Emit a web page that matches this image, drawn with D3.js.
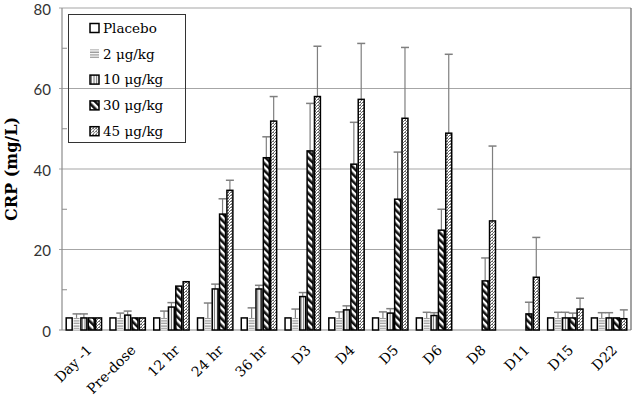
<!DOCTYPE html>
<html>
<head>
<meta charset="utf-8">
<script src="https://cdn.jsdelivr.net/npm/d3@7"></script>
<style>
  body { margin: 0; background: #fff; }
  svg { display: block; }
</style>
</head>
<body>
<div id="chart"></div>
<script>
const categories = ["Day -1", "Pre-dose", "12 hr", "24 hr", "36 hr", "D3", "D4", "D5", "D6", "D8", "D11", "D15", "D22"];
const seriesNames = ["Placebo", "2 μg/kg", "10 μg/kg", "30 μg/kg", "45 μg/kg"];

// mean CRP (mg/L), null = not measured
const placebo = [3, 3, 3, 3, 3, 3, 3, 3, 3, null, null, 3, 3];
const dose2   = [3, 3, 3, 3, 3, 3, 3, 3, 3, null, null, 3, 3];
const dose10  = [3, 3.7, 5.7, 10.2, 10.2, 8.3, 5, 4.2, 3.6, null, null, 3, 3];
const dose30  = [3, 3, 10.9, 28.8, 42.8, 44.5, 41.2, 32.5, 24.8, 12.2, 4, 3, 3];
const dose45  = [3, 3, 12, 34.7, 51.9, 58, 57.3, 52.6, 48.9, 27.1, 13.1, 5.2, 2.8];

// upper error (SD)
const errPlacebo = [0, 0, 0, 0, 0, 0, 0, 0, 0, 0, 0, 0, 0];
const err2  = [1, 1.2, 1.7, 3.7, 2.5, 2.2, 1.5, 1.5, 1.4, 0, 0, 1.4, 1.3];
const err10 = [1, 1, 1.1, 1.2, 0.9, 1, 1, 1.1, 0.7, 0, 0, 1.4, 1.3];
const err30 = [0, 0, 0, 3.8, 5.2, 11.8, 10.4, 11.7, 5.2, 5.7, 2.9, 1.2, 0];
const err45 = [0, 0, 0, 2.5, 6.1, 12.5, 13.9, 17.6, 19.6, 18.6, 9.9, 2.7, 2.2];

const yTicks = [0, 20, 40, 60, 80];
const yMinorTicks = [10, 30, 50, 70];

const means = [placebo, dose2, dose10, dose30, dose45];
const errs = [errPlacebo, err2, err10, err30, err45];
const fills = ['#fff', 'url(#hlines)', 'url(#vlines)', 'url(#diag)', 'url(#zig)'];
const strokes = ['#000', 'none', '#000', '#000', '#000'];

const width = 633, height = 400;
const margin = { top: 8, right: 2, bottom: 70, left: 62 };

const svg = d3.select('#chart').append('svg')
    .attr('width', width)
    .attr('height', height);

const defs = svg.append('defs');

const hl = defs.append('pattern').attr('id', 'hlines')
    .attr('patternUnits', 'userSpaceOnUse').attr('width', 4).attr('height', 2.6);
hl.append('rect').attr('width', 4).attr('height', 2.6).attr('fill', '#fff');
hl.append('line').attr('x1', 0).attr('x2', 4).attr('y1', 1).attr('y2', 1)
    .attr('stroke', '#777').attr('stroke-width', 1);

const vl = defs.append('pattern').attr('id', 'vlines')
    .attr('patternUnits', 'userSpaceOnUse').attr('width', 2.7).attr('height', 4);
vl.append('rect').attr('width', 2.7).attr('height', 4).attr('fill', '#fff');
vl.append('line').attr('x1', 1.3).attr('x2', 1.3).attr('y1', 0).attr('y2', 4)
    .attr('stroke', '#666').attr('stroke-width', 1);

const dg = defs.append('pattern').attr('id', 'diag')
    .attr('patternUnits', 'userSpaceOnUse').attr('width', 5).attr('height', 5)
    .attr('patternTransform', 'rotate(-45)');
dg.append('rect').attr('width', 5).attr('height', 5).attr('fill', '#fff');
dg.append('rect').attr('width', 2.6).attr('height', 5).attr('fill', '#111');

const zg = defs.append('pattern').attr('id', 'zig')
    .attr('patternUnits', 'userSpaceOnUse').attr('width', 3).attr('height', 3);
zg.append('rect').attr('width', 3).attr('height', 3).attr('fill', '#fff');
zg.append('path').attr('d', 'M0,0 L1.5,1.5 L3,0 M0,3 L3,0')
    .attr('stroke', '#666').attr('stroke-width', 0.9).attr('fill', 'none');

const x = d3.scaleBand()
    .domain(categories)
    .range([margin.left, width - margin.right])
    .paddingInner(0.16)
    .paddingOuter(0.08);

const xs = d3.scaleBand()
    .domain(d3.range(seriesNames.length))
    .range([0, x.bandwidth()]);

const y = d3.scaleLinear()
    .domain([0, 80])
    .range([height - margin.bottom, margin.top]);

// gridlines
svg.append('g').selectAll('line')
    .data(yTicks.filter(d => d > 0))
    .join('line')
    .attr('x1', margin.left - 3)
    .attr('x2', width - margin.right)
    .attr('y1', d => y(d)).attr('y2', d => y(d))
    .attr('stroke', '#a6a6a6').attr('stroke-width', 1.2);

// minor ticks
svg.append('g').selectAll('line')
    .data(yMinorTicks)
    .join('line')
    .attr('x1', margin.left).attr('x2', margin.left + 5)
    .attr('y1', d => y(d)).attr('y2', d => y(d))
    .attr('stroke', '#8c8c8c');

// y axis line, baseline, right edge
svg.append('line')
    .attr('x1', margin.left).attr('x2', margin.left)
    .attr('y1', y(80)).attr('y2', y(0))
    .attr('stroke', '#8c8c8c').attr('stroke-width', 1.2);
svg.append('line')
    .attr('x1', margin.left - 3).attr('x2', width - margin.right)
    .attr('y1', y(0)).attr('y2', y(0))
    .attr('stroke', '#8c8c8c').attr('stroke-width', 1.2);
svg.append('line')
    .attr('x1', width - margin.right).attr('x2', width - margin.right)
    .attr('y1', y(80)).attr('y2', y(0))
    .attr('stroke', '#666').attr('stroke-width', 1.2);

// y tick labels
svg.append('g').selectAll('text')
    .data(yTicks)
    .join('text')
    .attr('x', margin.left - 11)
    .attr('y', d => y(d))
    .attr('dy', '0.45em')
    .attr('text-anchor', 'end')
    .attr('font-family', 'Lato, sans-serif')
    .attr('font-size', 15)
    .attr('fill', '#333')
    .text(d => d);

svg.append('text')
    .attr('transform', `translate(17, ${y(40)}) rotate(-90)`)
    .attr('text-anchor', 'middle')
    .attr('font-family', '"DejaVu Serif", serif')
    .attr('font-weight', 'bold')
    .attr('font-size', 16)
    .text('CRP (mg/L)');

// bars
const barData = [];
categories.forEach((c, i) => {
    means.forEach((s, k) => {
        if (s[i] !== null) barData.push({ cat: c, k, v: s[i], e: errs[k][i] });
    });
});

const bars = svg.append('g');

// error bars
const eb = bars.selectAll('.err')
    .data(barData.filter(d => d.e > 0))
    .join('g').attr('class', 'err');
eb.append('line')
    .attr('x1', d => x(d.cat) + xs(d.k) + xs.bandwidth() / 2)
    .attr('x2', d => x(d.cat) + xs(d.k) + xs.bandwidth() / 2)
    .attr('y1', d => y(d.v)).attr('y2', d => y(d.v + d.e))
    .attr('stroke', '#7f7f7f').attr('stroke-width', 1.2);
eb.append('line')
    .attr('x1', d => x(d.cat) + xs(d.k) + xs.bandwidth() / 2 - 4)
    .attr('x2', d => x(d.cat) + xs(d.k) + xs.bandwidth() / 2 + 4)
    .attr('y1', d => y(d.v + d.e)).attr('y2', d => y(d.v + d.e))
    .attr('stroke', '#7f7f7f').attr('stroke-width', 1.5);

bars.selectAll('.bar')
    .data(barData)
    .join('rect').attr('class', 'bar')
    .attr('x', d => x(d.cat) + xs(d.k) + 0.7)
    .attr('width', xs.bandwidth() - 1.4)
    .attr('y', d => y(d.v))
    .attr('height', d => y(0) - y(d.v))
    .attr('fill', d => fills[d.k])
    .attr('stroke', d => strokes[d.k])
    .attr('stroke-width', 1.5);

// x labels
svg.append('g').selectAll('text')
    .data(categories)
    .join('text')
    .attr('transform', d => `translate(${x(d) + x.bandwidth() / 2 + 9}, ${y(0) + 21}) rotate(-45)`)
    .attr('text-anchor', 'end')
    .attr('font-family', '"DejaVu Serif", serif')
    .attr('font-size', 14)
    .text(d => d);

// legend
const lg = svg.append('g');
lg.append('rect')
    .attr('x', 68.5).attr('y', 14.5).attr('width', 117).attr('height', 128)
    .attr('fill', 'none').attr('stroke', '#333').attr('stroke-width', 1);
const rows = lg.selectAll('.row')
    .data(seriesNames)
    .join('g').attr('class', 'row')
    .attr('transform', (d, i) => `translate(90, ${28 + i * 25.8})`);
rows.append('rect')
    .attr('x', 0).attr('y', -4.5).attr('width', 9).attr('height', 9)
    .attr('fill', (d, i) => fills[i])
    .attr('stroke', (d, i) => strokes[i])
    .attr('stroke-width', 1.5);
rows.append('text')
    .attr('x', 13).attr('dy', '0.35em')
    .attr('font-family', '"DejaVu Serif", serif')
    .attr('font-size', 13.5)
    .text(d => d);
</script>
</body>
</html>
